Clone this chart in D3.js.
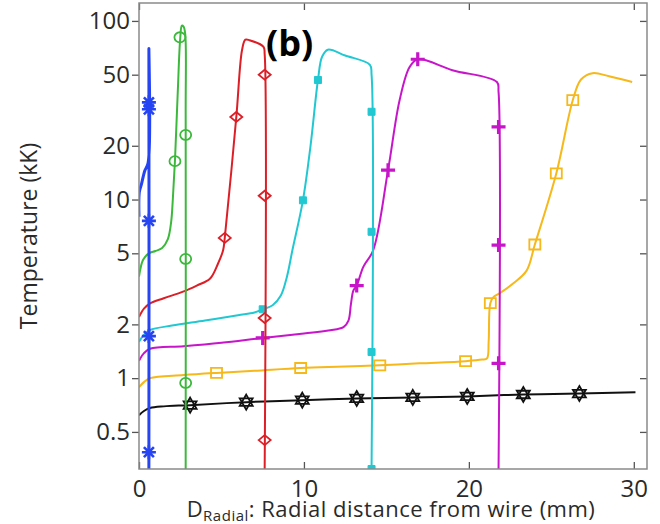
<!DOCTYPE html>
<html>
<head>
<meta charset="utf-8">
<script src="https://cdn.jsdelivr.net/npm/d3@7"></script>
<style>
  body { margin: 0; background: #fff; }
  svg { display: block; font-family: "Open Sans", "Liberation Sans", Arial, sans-serif; }
</style>
</head>
<body>
<div id="chart"></div>
<script>
// radial temperature profiles, x in mm, T in kK
var blueX = [0, 0.02, 0.15, 0.35, 0.55, 0.6, 0.6];
var blueT = [8, 11, 12.2, 14.5, 16, 70, 0.31];
var blueMarkX = [0.6, 0.6, 0.6, 0.6, 0.6];
var blueMarkT = [35, 32, 7.6, 1.72, 0.385];

var greenX = [0, 0.25, 0.6, 1.0, 1.4, 1.75, 1.95, 2.05, 2.18, 2.35, 2.5, 2.6, 2.7, 2.8, 2.83, 2.83];
var greenT = [3.7, 4.6, 5.0, 5.15, 5.35, 6.0, 7.5, 10, 16.5, 40, 80, 94, 93, 85, 30, 0.31];
var greenMarkX = [2.48, 2.18, 2.83, 2.83, 2.83];
var greenMarkT = [81, 16.4, 23, 4.65, 0.94];

var redX = [0, 0.3, 0.67, 1.5, 2.67, 3.5, 4.3, 4.8, 5.1, 5.2, 5.9, 6.25, 6.45, 6.7, 7.55, 7.62, 7.62];
var redT = [2.2, 2.45, 2.62, 2.8, 3.05, 3.3, 3.6, 4.4, 5.2, 6.1, 29, 69, 78.5, 78, 71.5, 65, 0.31];
var redMarkX = [5.2, 5.9, 7.62, 7.62, 7.62, 7.62];
var redMarkT = [6.1, 29, 50, 10.5, 2.17, 0.45];

var cyanX = [0, 0.3, 0.67, 2, 4, 6, 7, 7.5, 8.1, 8.6, 8.97, 9.3, 9.94, 10.4, 10.85, 11.1, 11.45, 12.5, 14.0, 14.1, 14.1];
var cyanT = [1.6, 1.75, 1.86, 1.97, 2.1, 2.25, 2.33, 2.43, 2.56, 2.9, 3.7, 5.2, 9.9, 20, 46.7, 63, 69, 64, 56.8, 50, 0.31];
var cyanMarkX = [7.5, 9.94, 10.85, 14.1, 14.1, 14.1, 14.1];
var cyanMarkT = [2.43, 9.9, 46.7, 31, 6.6, 1.4, 0.31];

var magentaX = [0, 0.3, 0.67, 2.7, 5, 7.5, 10, 12.0, 12.4, 12.7, 12.85, 13.0, 13.2, 13.6, 14.2, 15.1, 15.8, 16.4, 16.9, 19, 21.7, 21.8, 21.8];
var magentaT = [1.25, 1.38, 1.46, 1.51, 1.58, 1.68, 1.78, 1.88, 1.93, 2.1, 2.6, 3.1, 3.3, 4.2, 5.2, 14.6, 36, 55, 61, 53, 45.5, 40, 0.31];
var magentaMarkX = [7.5, 13.2, 15.1, 16.9, 21.8, 21.8, 21.8];
var magentaMarkT = [1.68, 3.3, 14.6, 61, 25.5, 5.56, 1.21];

var orangeX = [0, 0.3, 0.67, 2.7, 4.7, 7, 9.8, 12, 14.6, 17, 19.8, 20.8, 21.1, 21.2, 21.3, 21.5, 21.9, 22.7, 23.5, 24.0, 25.3, 26.3, 26.8, 27.5, 28.5, 29.9];
var orangeT = [0.89, 0.95, 1.0, 1.04, 1.07, 1.1, 1.14, 1.16, 1.18, 1.21, 1.245, 1.27, 1.29, 1.6, 2.63, 2.85, 3.0, 3.4, 4.0, 5.6, 14, 36, 47, 51, 49, 45.5];
var orangeMarkX = [4.7, 9.8, 14.6, 19.8, 21.3, 24.0, 25.3, 26.3];
var orangeMarkT = [1.07, 1.14, 1.18, 1.245, 2.63, 5.6, 14, 36];

var blackX = [0, 0.3, 0.67, 1.5, 3.1, 6.5, 9.9, 13.2, 16.6, 19.9, 23.3, 26.7, 30.1];
var blackT = [0.62, 0.655, 0.68, 0.695, 0.706, 0.734, 0.753, 0.77, 0.78, 0.79, 0.81, 0.82, 0.835];
var blackMarkX = [3.1, 6.5, 9.9, 13.2, 16.6, 19.9, 23.3, 26.7];
var blackMarkT = [0.706, 0.734, 0.753, 0.77, 0.78, 0.79, 0.81, 0.82];

var xTicks = [0, 10, 20, 30];
var yTicks = [0.5, 1, 2, 5, 10, 20, 50, 100];

var svgWidth = 660;
var svgHeight = 524;
var plot = {left: 139, right: 647, top: 3, bottom: 469};

var svg = d3.select("#chart").append("svg")
    .attr("width", svgWidth)
    .attr("height", svgHeight);

var xScale = d3.scaleLinear().domain([0, 30.8]).range([plot.left, plot.right]);
var yScale = d3.scaleLog().domain([0.31, 126]).range([plot.bottom, plot.top]);

// marker shapes
function markerPath(kind) {
    switch (kind) {
        case "asterisk":
            return "M-7,0L7,0M0,-7L0,7M-5,-5L5,5M-5,5L5,-5";
        case "circle":
            return "M-5.5,0A5.5,5,0,1,0,5.5,0A5.5,5,0,1,0,-5.5,0Z";
        case "diamond":
            return "M-6,0L0,-5L6,0L0,5Z";
        case "fsquare":
            return "M-3.5,-3.5L3.5,-3.5L3.5,3.5L-3.5,3.5Z";
        case "plus":
            return "M-7,0L7,0M0,-7L0,7";
        case "square":
            return "M-5.5,-5L5.5,-5L5.5,5L-5.5,5Z";
        case "hexagram":
            var r = 7.5, a = [];
            for (var i = 0; i < 6; i++) {
                var ang = -Math.PI / 2 + i * Math.PI / 3;
                a.push([r * Math.cos(ang), r * Math.sin(ang)]);
            }
            return "M" + a[0] + "L" + a[2] + "L" + a[4] + "Z" +
                   "M" + a[1] + "L" + a[3] + "L" + a[5] + "Z";
    }
}

var series = [
    {xs: blackX, ts: blackT, mx: blackMarkX, mt: blackMarkT, color: "#111111", width: 2, marker: "hexagram", markWidth: 1.8, fill: "none"},
    {xs: orangeX, ts: orangeT, mx: orangeMarkX, mt: orangeMarkT, color: "#f6b81a", width: 2, marker: "square", markWidth: 1.8, fill: "none"},
    {xs: magentaX, ts: magentaT, mx: magentaMarkX, mt: magentaMarkT, color: "#c715c9", width: 2, marker: "plus", markWidth: 3.2, fill: "none"},
    {xs: cyanX, ts: cyanT, mx: cyanMarkX, mt: cyanMarkT, color: "#21c8d2", width: 2, marker: "fsquare", markWidth: 1, fill: "#21c8d2"},
    {xs: redX, ts: redT, mx: redMarkX, mt: redMarkT, color: "#dc1f26", width: 2, marker: "diamond", markWidth: 1.8, fill: "none"},
    {xs: greenX, ts: greenT, mx: greenMarkX, mt: greenMarkT, color: "#3cb83c", width: 2, marker: "circle", markWidth: 1.8, fill: "none"},
    {xs: blueX, ts: blueT, mx: blueMarkX, mt: blueMarkT, color: "#2644f2", width: 3, marker: "asterisk", markWidth: 2.6, fill: "none"}
];

svg.append("clipPath").attr("id", "clip")
    .append("rect")
    .attr("x", plot.left).attr("y", plot.top)
    .attr("width", plot.right - plot.left).attr("height", plot.bottom - plot.top);

var line = d3.line()
    .x(d => xScale(d[0]))
    .y(d => yScale(d[1]))
    .curve(d3.curveCatmullRom.alpha(0.5));

var linesGroup = svg.append("g").attr("clip-path", "url(#clip)");

series.forEach(function(s) {
    var pts = s.xs.map((x, i) => [x, s.ts[i]]);
    linesGroup.append("path")
        .datum(pts)
        .attr("d", line)
        .attr("fill", "none")
        .attr("stroke", s.color)
        .attr("stroke-width", s.width)
        .attr("stroke-linejoin", "round");

    var marks = s.mx.map((x, i) => [x, s.mt[i]]);
    linesGroup.append("g").selectAll("path")
        .data(marks)
        .enter()
        .append("path")
        .attr("transform", d => `translate(${xScale(d[0])},${yScale(d[1])})`)
        .attr("d", markerPath(s.marker))
        .attr("fill", s.fill)
        .attr("stroke", s.color)
        .attr("stroke-width", s.markWidth);
});

// axes
var axisColor = "#555";
var fmt = d3.format("~g");

var leftAxis = svg.append("g")
    .attr("transform", `translate(${plot.left},0)`)
    .call(d3.axisLeft(yScale).tickValues(yTicks).tickFormat(fmt).tickSize(7).tickPadding(2));
var rightAxis = svg.append("g")
    .attr("transform", `translate(${plot.right},0)`)
    .call(d3.axisRight(yScale).tickValues(yTicks).tickFormat("").tickSize(-7));
var bottomAxis = svg.append("g")
    .attr("transform", `translate(0,${plot.bottom})`)
    .call(d3.axisBottom(xScale).tickValues(xTicks).tickFormat(fmt).tickSize(-7).tickPadding(11));
var topAxis = svg.append("g")
    .attr("transform", `translate(0,${plot.top})`)
    .call(d3.axisTop(xScale).tickValues(xTicks).tickFormat("").tickSize(-7));

[leftAxis, rightAxis, bottomAxis, topAxis].forEach(function(g) {
    g.select(".domain").remove();
    g.selectAll(".tick line").attr("stroke", axisColor).attr("stroke-width", 1.3);
    g.selectAll(".tick text")
        .attr("fill", "#2a2a2a")
        .style("font-size", "24px")
        .style("font-family", "'Open Sans', 'Liberation Sans', Arial, sans-serif");
});

// frame
svg.append("rect")
    .attr("x", plot.left).attr("y", plot.top)
    .attr("width", plot.right - plot.left).attr("height", plot.bottom - plot.top)
    .attr("fill", "none")
    .attr("stroke", "#8a8a8a")
    .attr("stroke-width", 1.5);

// axis titles
svg.append("text")
    .attr("transform", "translate(37,236) rotate(-90)")
    .attr("text-anchor", "middle")
    .attr("fill", "#2a2a2a")
    .style("font-size", "23px")
    .text("Temperature (kK)");

var xLabel = svg.append("text")
    .attr("x", 391)
    .attr("y", 517)
    .attr("text-anchor", "middle")
    .attr("fill", "#2a2a2a")
    .style("font-size", "22px")
    .style("letter-spacing", "0.5px");
xLabel.append("tspan").text("D");
xLabel.append("tspan").attr("dy", 4).style("font-size", "15px").text("Radial");
xLabel.append("tspan").attr("dy", -4).text(": Radial distance from wire (mm)");

// panel tag
svg.append("text")
    .attr("x", 266)
    .attr("y", 56)
    .attr("fill", "#000")
    .style("font-size", "36px")
    .style("font-weight", "bold")
    .text("(b)");
</script>
</body>
</html>
